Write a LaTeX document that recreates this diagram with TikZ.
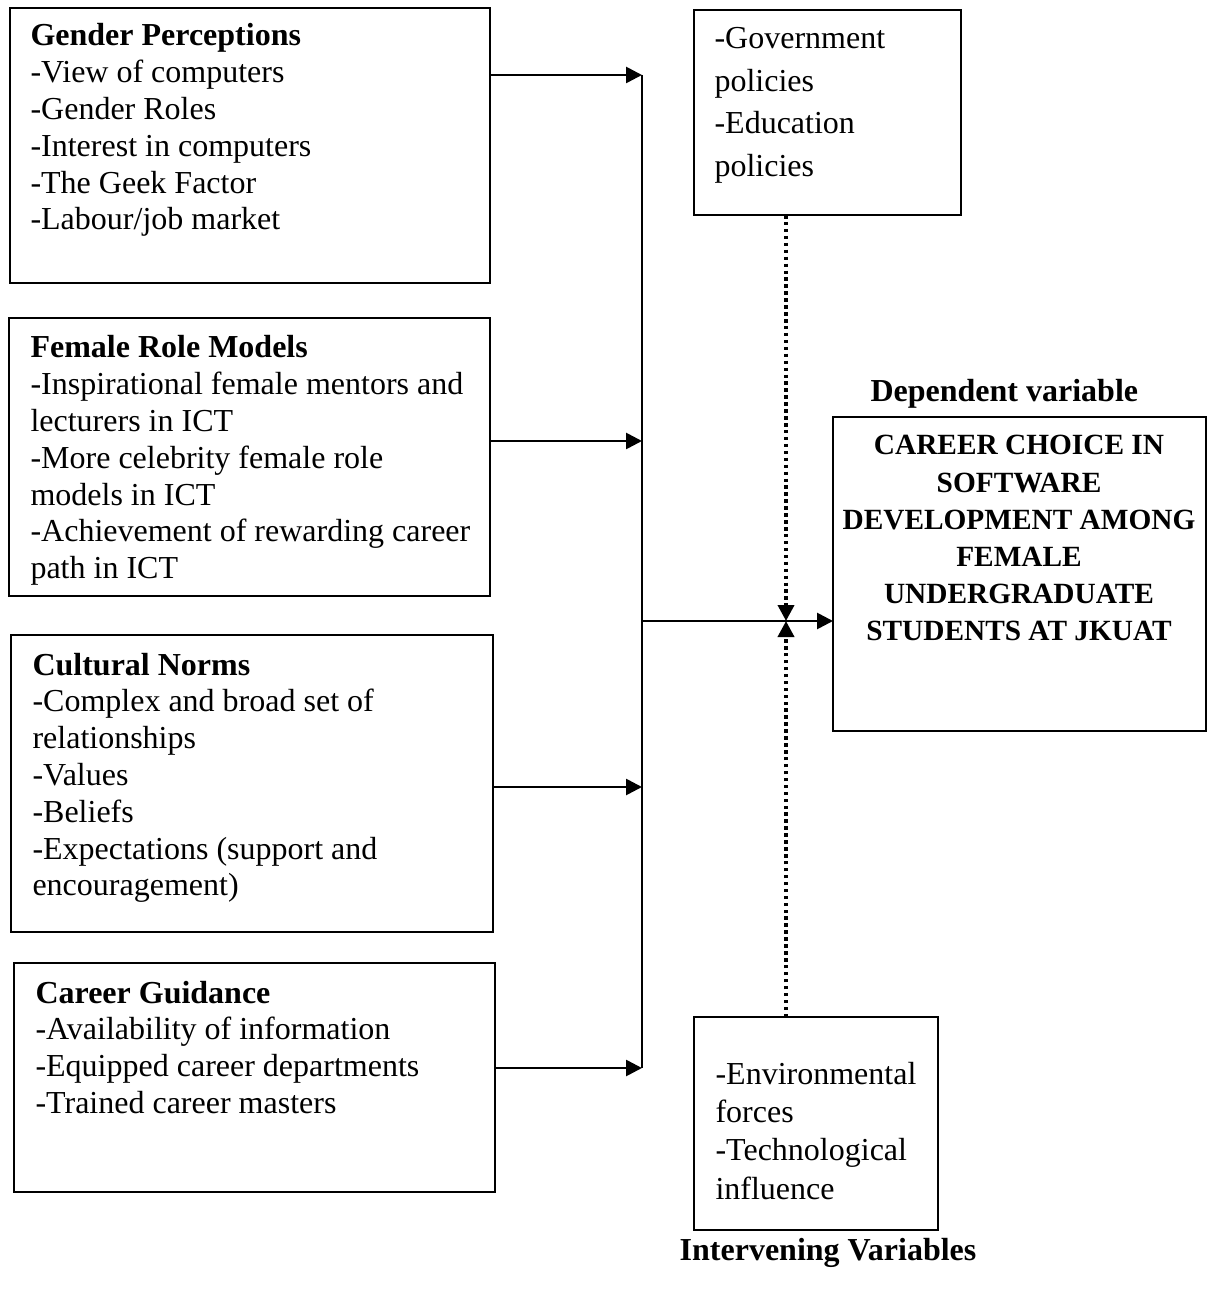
\documentclass[tikz,border=0pt]{standalone}
\usepackage{fontspec}
\setmainfont{Liberation Serif}
\usetikzlibrary{arrows.meta}

\begin{document}
\begin{tikzpicture}[x=0.375pt,y=-0.375pt]%
  \tikzstyle{varbox}=[rectangle,draw,line width=0.8pt,anchor=north west,outer sep=0,inner sep=0]
  \tikzstyle{vartext}=[anchor=base west,inner sep=0,text width=175pt,align=flush left,font=\fontsize{12}{13.8}\selectfont]
  \tikzstyle{link}=[line width=1pt,-{Triangle[length=6pt,width=6pt]}]
  \tikzstyle{dotlink}=[line width=1.4pt,dash pattern=on 1.3pt off 1.3pt,-{Triangle[length=6pt,width=6pt]}]
  \useasboundingbox (0,0) rectangle (1206,1293);
  \node(gender)[varbox,minimum width=180pt,minimum height=103.1pt] at (10,8) {};
  \node(gendertxt)[vartext] at (30,46) {\textbf{Gender Perceptions}\\-View of computers\\-Gender Roles\\-Interest in computers\\-The Geek Factor\\-Labour/job market};
  \node(role)[varbox,minimum width=180.4pt,minimum height=104.25pt] at (9,318) {};
  \node(roletxt)[vartext] at (30,358) {\textbf{Female Role Models}\\-Inspirational female mentors and\\lecturers in ICT\\-More celebrity female role\\models in ICT\\-Achievement of rewarding career\\path in ICT};
  \node(norms)[varbox,minimum width=180.75pt,minimum height=111.4pt] at (11,635) {};
  \node(normstxt)[vartext] at (32,675) {\textbf{Cultural Norms}\\-Complex and broad set of\\relationships\\-Values\\-Beliefs\\-Expectations (support and\\encouragement)};
  \node(guide)[varbox,minimum width=180.4pt,minimum height=85.9pt] at (14,963) {};
  \node(guidetxt)[vartext] at (35,1003) {\textbf{Career Guidance}\\-Availability of information\\-Equipped career departments\\-Trained career masters};
  \node(policy)[varbox,minimum width=100.1pt,minimum height=76.9pt] at (694,10) {};
  \node(policytxt)[vartext,text width=95pt,font=\fontsize{12}{15.9}\selectfont] at (714,49) {-Government\\policies\\-Education\\policies};
  \node(forces)[varbox,minimum width=91.5pt,minimum height=79.9pt] at (694,1017) {};
  \node(forcestxt)[vartext,text width=88pt,font=\fontsize{12}{14.4}\selectfont] at (715,1084) {-Environmental\\forces\\-Technological\\influence};
  \node(career)[varbox,minimum width=139.9pt,minimum height=117.75pt] at (833,417) {};
  \node(careertxt)[anchor=base,inner sep=0,text width=138pt,align=flush center,font=\fontsize{11}{13.9}\selectfont\bfseries] at (1019,455) {CAREER CHOICE IN\\SOFTWARE\\DEVELOPMENT AMONG\\FEMALE\\UNDERGRADUATE\\STUDENTS AT JKUAT};
  \node(deplabel)[anchor=base west,inner sep=0,font=\fontsize{12}{13.8}\selectfont\bfseries] at (870,402) {Dependent variable};
  \node(intlabel)[anchor=base,inner sep=0,font=\fontsize{12}{13.8}\selectfont\bfseries] at (828,1260) {Intervening Variables};
  \coordinate(b1) at (642,75);
  \coordinate(b2) at (642,441);
  \coordinate(b3) at (642,787);
  \coordinate(b4) at (642,1068);
  \coordinate(bm) at (642,621);
  \coordinate(meet) at (786,621);
  \draw[line width=1pt] (b1) -- (b4);
  \draw[link] (gender.east |- b1) -- (b1);
  \draw[link] (role.east |- b2) -- (b2);
  \draw[link] (norms.east |- b3) -- (b3);
  \draw[link] (guide.east |- b4) -- (b4);
  \draw[link] (bm) -- (bm -| career.west);
  \draw[dotlink] (meet |- policy.south) -- (meet);
  \draw[dotlink] (meet |- forces.north) -- (meet);
\end{tikzpicture}
\end{document}
